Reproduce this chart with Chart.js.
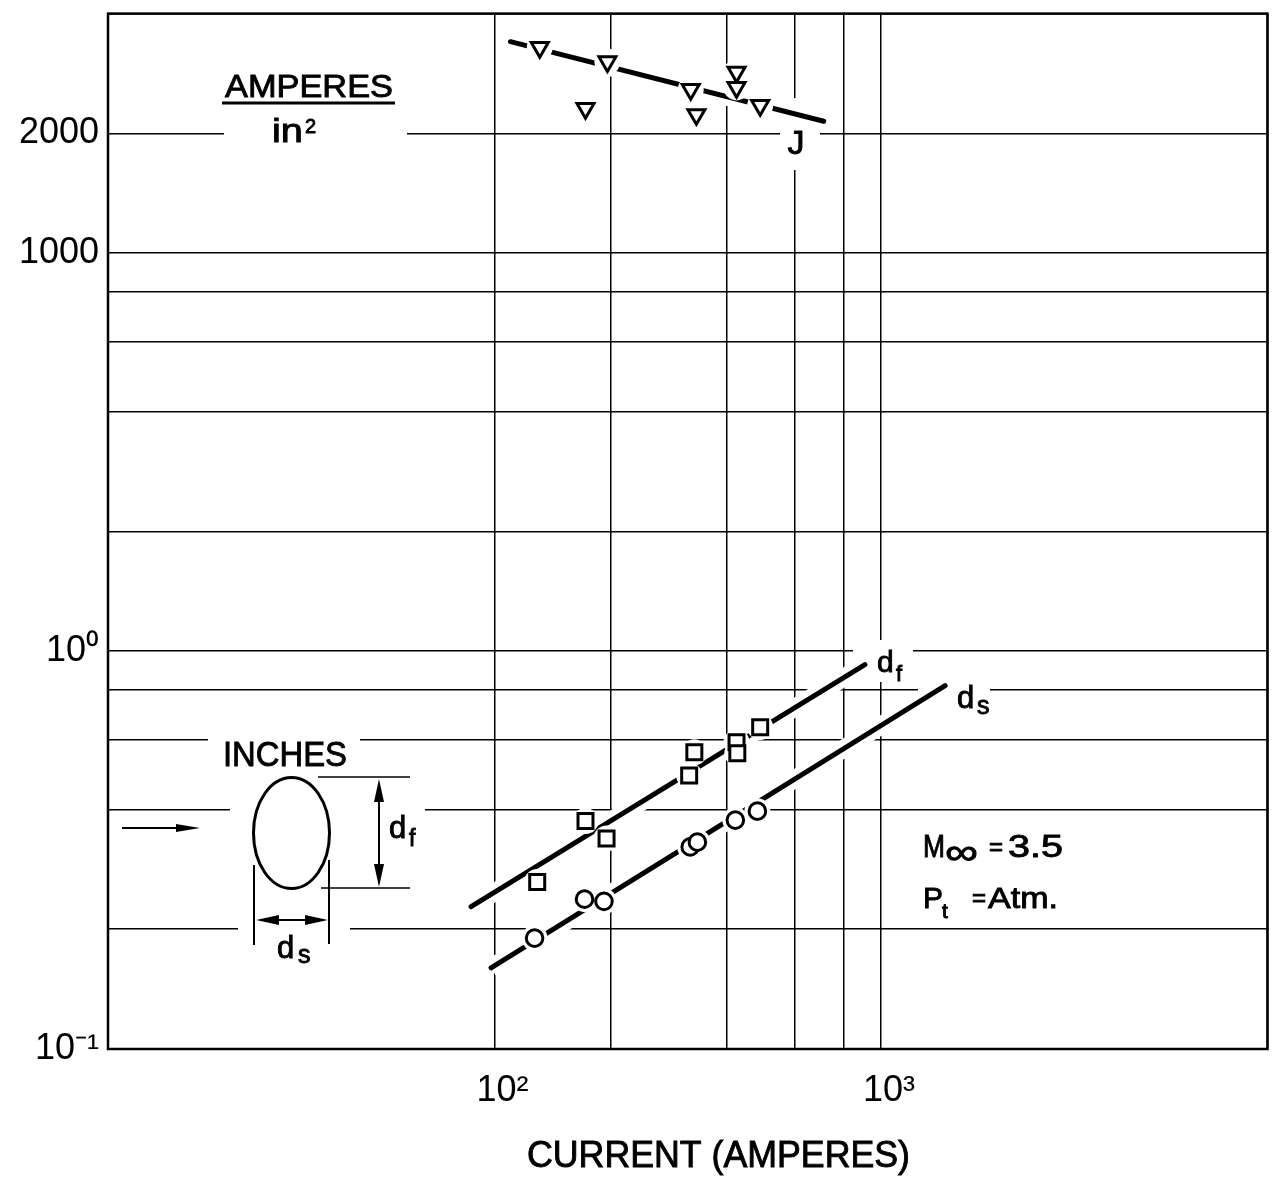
<!DOCTYPE html>
<html><head><meta charset="utf-8">
<script src="https://cdn.jsdelivr.net/npm/chart.js@4.4.1/dist/chart.umd.min.js"></script>
<style>html,body{margin:0;padding:0;background:#fff;}canvas{display:block;}</style>
</head><body>
<canvas id="c" width="1281" height="1178"></canvas>
<script>
const FONT = '"Liberation Sans", Arial, sans-serif';

// ---- data ----
// Current density J (A/in^2) vs current (A) — triangles
const currentJ = [131, 196, 172, 322, 333, 423, 423, 487];
const ampsPerSqIn = [3290, 3030, 2310, 2580, 2230, 2850, 2610, 2350];
// d_f (inches) — squares
const currentF = [129, 172, 195, 319, 329, 423, 425, 487];
const dfInches = [0.263, 0.374, 0.338, 0.487, 0.557, 0.590, 0.554, 0.644];
// d_s (inches) — circles
const currentS = [127, 171, 192, 321, 335, 420, 479];
const dsInches = [0.190, 0.238, 0.235, 0.322, 0.331, 0.376, 0.396];
// faired lines (end points)
const jFitX = [110, 711];
const jFitY = [3400, 2145];
const dfFitX = [87, 909];
const dfFitY = [0.228, 0.925];
const dsFitX = [98, 1466];
const dsFitY = [0.160, 0.819];

// ---- axes ----
const xGrid = [10, 100, 200, 400, 600, 800, 1000, 10000];
const xLabeledTicks = [100, 1000];
const xTickLabels = ['10\u00B2', '10\u00B3'];
const yGrid = [0.1, 0.2, 0.4, 0.6, 0.8, 1, 2, 4, 6, 8, 10, 20, 40];
const yLabeledTicks = [0.1, 1, 10, 20];
const yTickLabels = ['10\u207B\u00B9', '10\u2070', '1000', '2000'];
const J_PER_INCH_UNIT = 100; // 1000 A/in^2 sits on the 10 line of the inch scale

const pts = (xs, ys, k = 1) => xs.map((x, i) => ({ x, y: ys[i] / k }));

function labelFor(v, vals, labels) {
  for (let i = 0; i < vals.length; i++) if (Math.abs(v - vals[i]) / vals[i] < 1e-6) return labels[i];
  return '';
}

function txt(ctx, s, x, y, size, opt = {}) {
  ctx.save();
  ctx.font = size + 'px ' + FONT;
  ctx.fillStyle = '#000';
  ctx.strokeStyle = '#000';
  ctx.lineWidth = opt.lw === undefined ? 0.9 : opt.lw;
  ctx.textBaseline = 'alphabetic';
  ctx.textAlign = 'left';
  const mw = ctx.measureText(s).width;
  const sx = opt.w ? opt.w / mw : 1;
  let x0 = x;
  if (opt.align === 'center') x0 = x - mw * sx / 2;
  if (opt.align === 'right') x0 = x - mw * sx;
  ctx.translate(x0, y);
  ctx.scale(sx, 1);
  ctx.fillText(s, 0, 0);
  if (ctx.lineWidth > 0) ctx.strokeText(s, 0, 0);
  ctx.restore();
}
function line(ctx, x0, y0, x1, y1, w) {
  ctx.save(); ctx.strokeStyle = '#000'; ctx.lineWidth = w;
  ctx.beginPath(); ctx.moveTo(x0, y0); ctx.lineTo(x1, y1); ctx.stroke(); ctx.restore();
}
function head(ctx, tx, ty, dx, dy, len, hw) {
  const px = -dy, py = dx;
  ctx.save(); ctx.fillStyle = '#000'; ctx.beginPath();
  ctx.moveTo(tx, ty);
  ctx.lineTo(tx - dx * len + px * hw, ty - dy * len + py * hw);
  ctx.lineTo(tx - dx * len - px * hw, ty - dy * len - py * hw);
  ctx.closePath(); ctx.fill(); ctx.restore();
}

// white patches behind lettering (gaps in grid lines as in the drawing)
const knockouts = [
  [224, 60, 407, 150],   // AMPERES / in2
  [780, 98, 820, 170],   // J
  [208, 730, 360, 772],  // INCHES
  [230, 800, 425, 816],  // ellipse / d_f
  [238, 921, 350, 936],  // d_s
  [853, 640, 913, 682],  // d_f label
  [918, 680, 990, 720]   // d_s label
];

const artwork = {
  id: 'artwork',
  beforeDatasetsDraw(chart) {
    const ctx = chart.ctx;
    ctx.save(); ctx.fillStyle = '#fff';
    for (const [x0, y0, x1, y1] of knockouts) ctx.fillRect(x0, y0, x1 - x0, y1 - y0);
    ctx.restore();
  },
  afterDraw(chart) {
    const ctx = chart.ctx, a = chart.chartArea;
    ctx.save(); ctx.strokeStyle = '#000'; ctx.lineWidth = 2.5;
    ctx.strokeRect(a.left, a.top, a.right - a.left, a.bottom - a.top); ctx.restore();

    // AMPERES / in^2
    txt(ctx, 'AMPERES', 225, 97, 32, { w: 168 });
    line(ctx, 222, 103, 395, 103, 3);
    txt(ctx, 'in', 272, 142, 33, { w: 31 });
    txt(ctx, '2', 305, 133, 20);
    txt(ctx, 'J', 796, 154, 34, { align: 'center' });

    // inset sketch
    txt(ctx, 'INCHES', 223, 766, 35, { w: 124 });
    line(ctx, 122, 828, 185, 828, 2);
    head(ctx, 200, 828, 1, 0, 24, 4);
    ctx.save(); ctx.strokeStyle = '#000'; ctx.lineWidth = 3;
    ctx.beginPath(); ctx.ellipse(291.5, 833, 38, 55.5, 0, 0, Math.PI * 2); ctx.stroke(); ctx.restore();
    line(ctx, 318, 777, 410, 777, 1.5);
    line(ctx, 321, 888, 410, 888, 1.5);
    line(ctx, 379, 790, 379, 877, 2);
    head(ctx, 379, 779, 0, -1, 23, 5);
    head(ctx, 379, 887, 0, 1, 23, 5);
    txt(ctx, 'd', 389, 838, 31);
    txt(ctx, 'f', 409, 846, 23);
    line(ctx, 254, 865, 254, 945, 2);
    line(ctx, 329, 860, 329, 944, 2);
    line(ctx, 266, 920, 318, 920, 2);
    head(ctx, 256, 920, -1, 0, 23, 5);
    head(ctx, 328, 920, 1, 0, 23, 5);
    txt(ctx, 'd', 277, 958, 31);
    txt(ctx, 's', 298, 963, 25);

    // series labels
    txt(ctx, 'd', 877, 672, 30);
    txt(ctx, 'f', 896, 681, 22);
    txt(ctx, 'd', 957, 708, 31);
    txt(ctx, 's', 977, 714, 25);

    // conditions
    txt(ctx, 'M', 923, 857, 32, { w: 22 });
    txt(ctx, '\u221E', 945, 864, 36, { w: 33 });
    txt(ctx, '=', 989, 855, 24);
    txt(ctx, '3.5', 1008, 857, 32, { w: 55 });
    txt(ctx, 'P', 923, 908, 30);
    txt(ctx, 't', 942, 918, 21);
    txt(ctx, '=', 972, 906, 24);
    txt(ctx, 'Atm.', 988, 908, 30, { w: 70 });

    // axis title
    txt(ctx, 'CURRENT (AMPERES)', 527, 1167, 37, { w: 383 });
  }
};

const HALO = 13;
const lineDs = (data) => ([
  { data, showLine: true, borderColor: '#fff', borderWidth: 18, pointRadius: 0, order: 40 },
  { data, showLine: true, borderColor: '#000', borderWidth: 5, borderCapStyle: 'round', pointRadius: 0, order: 30 }
]);
const markerDs = (data, style, r, rot) => ([
  { data, showLine: false, pointStyle: 'circle', pointRadius: HALO, pointBackgroundColor: '#fff', pointBorderColor: '#fff', pointBorderWidth: 0, order: 20 },
  { data, showLine: false, pointStyle: style, pointRotation: rot || 0, pointRadius: r, pointBackgroundColor: '#fff', pointBorderColor: '#000', pointBorderWidth: 3, order: 10 }
]);

const jPts = pts(currentJ, ampsPerSqIn, J_PER_INCH_UNIT);
const fPts = pts(currentF, dfInches);
const sPts = pts(currentS, dsInches);

new Chart(document.getElementById('c'), {
  type: 'scatter',
  data: {
    datasets: [
      ...lineDs(pts(jFitX, jFitY, J_PER_INCH_UNIT)),
      ...lineDs(pts(dfFitX, dfFitY)),
      ...lineDs(pts(dsFitX, dsFitY)),
      ...markerDs(jPts, 'triangle', 9.8, 180),
      ...markerDs(fPts, 'rect', 10.6),
      ...markerDs(sPts, 'circle', 8.3)
    ]
  },
  options: {
    responsive: false, animation: false, devicePixelRatio: 1,
    layout: { padding: { left: 0, top: 12, right: 7, bottom: 0 } },
    plugins: { legend: { display: false }, tooltip: { enabled: false } },
    elements: { line: { tension: 0 } },
    scales: {
      x: {
        type: 'logarithmic', position: 'bottom', min: 10, max: 10000,
        afterBuildTicks: s => { s.ticks = xGrid.map(v => ({ value: v })); },
        afterFit: s => { s.height = 129; s.paddingLeft = 0; s.paddingRight = 0; },
        grid: { color: '#000', lineWidth: 1.5, drawTicks: false },
        border: { display: false },
        ticks: { autoSkip: false, maxRotation: 0, minRotation: 0, padding: 20, labelOffset: 8, color: '#000',
          font: { family: FONT, size: 36 }, callback: v => labelFor(v, xLabeledTicks, xTickLabels) }
      },
      y: {
        type: 'logarithmic', position: 'left', min: 0.1, max: 40,
        afterBuildTicks: s => { s.ticks = yGrid.map(v => ({ value: v })); },
        afterFit: s => { s.width = 108; s.paddingTop = 0; s.paddingBottom = 0; },
        grid: { color: '#000', lineWidth: 1.5, drawTicks: false },
        border: { display: false },
        ticks: { autoSkip: false, padding: 9, color: '#000',
          font: { family: FONT, size: 36 }, callback: v => labelFor(v, yLabeledTicks, yTickLabels) }
      }
    }
  },
  plugins: [artwork]
});
</script></body></html>
